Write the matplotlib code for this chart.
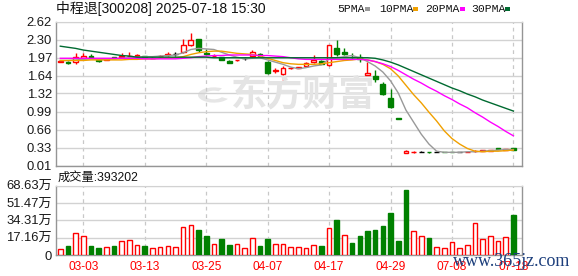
import matplotlib
matplotlib.use('Agg')
import matplotlib.pyplot as plt
from matplotlib.patches import Rectangle, Wedge
import numpy as np

# ---------------- data ----------------
title = "中程退[300208] 2025-07-18 15:30"
date_labels = ["03-03", "03-13", "03-25", "04-07", "04-17", "04-29", "07-08", "07-18"]
date_idx = [3, 11, 19, 27, 35, 43, 51, 59]

opens = [1.90, 1.90, 1.89, 1.96, 2.01, 1.93, 1.93, 1.98, 1.98, 2.00,
         2.01, 2.00, 1.97, 2.00, 2.02, 2.04, 2.07, 2.21, 2.31, 2.06,
         2.00, 1.99, 1.91, 1.92, 1.96, 2.01, 2.04, 1.89, 1.73, 1.67,
         1.78, 1.79, 1.82, 1.89, 1.91, 1.83, 2.14, 2.08, 1.99, 1.98,
         1.65, 1.64, 1.50, 1.23, 0.87, 0.24, 0.25, 0.26, 0.26, 0.25,
         0.26, 0.26, 0.25, 0.25, 0.27, 0.28, 0.28, 0.32, 0.30, 0.32]
highs = [1.92, 1.91, 2.06, 2.06, 2.04, 1.94, 1.95, 1.99, 2.06, 2.08,
         2.04, 2.01, 1.98, 2.02, 2.08, 2.08, 2.31, 2.42, 2.31, 2.12,
         2.04, 1.99, 1.92, 1.93, 1.98, 2.11, 2.05, 1.91, 1.78, 1.82,
         1.80, 1.81, 1.89, 2.02, 1.92, 2.21, 2.29, 2.14, 2.05, 2.04,
         1.90, 1.75, 1.52, 1.40, 0.87, 0.30, 0.28, 0.27, 0.26, 0.26,
         0.26, 0.26, 0.26, 0.26, 0.30, 0.29, 0.30, 0.32, 0.31, 0.32]
lows = [1.89, 1.86, 1.86, 1.93, 1.97, 1.90, 1.92, 1.96, 1.97, 1.99,
        2.00, 1.98, 1.96, 1.99, 2.01, 2.01, 2.05, 2.18, 2.08, 2.02,
        1.99, 1.92, 1.87, 1.91, 1.93, 1.96, 2.01, 1.68, 1.70, 1.53,
        1.76, 1.78, 1.81, 1.88, 1.85, 1.82, 2.01, 2.02, 1.97, 1.90,
        1.65, 1.53, 1.30, 1.05, 0.86, 0.24, 0.24, 0.25, 0.24, 0.25,
        0.25, 0.25, 0.25, 0.25, 0.26, 0.28, 0.28, 0.31, 0.30, 0.29]
closes = [1.91, 1.87, 1.99, 2.01, 1.97, 1.91, 1.95, 1.97, 2.01, 2.01,
          2.02, 1.99, 1.97, 2.01, 2.03, 2.04, 2.20, 2.30, 2.11, 2.03,
          2.01, 1.92, 1.88, 1.93, 1.96, 2.08, 2.01, 1.70, 1.75, 1.78,
          1.79, 1.80, 1.87, 1.93, 1.86, 2.21, 2.03, 2.03, 1.98, 1.95,
          1.69, 1.58, 1.31, 1.08, 0.86, 0.27, 0.26, 0.26, 0.25, 0.25,
          0.25, 0.25, 0.25, 0.26, 0.28, 0.29, 0.29, 0.31, 0.31, 0.29]

ma5 = [1.92, 1.92, 1.93, 1.94, 1.95, 1.94, 1.94, 1.95, 1.96, 1.97,
       1.98, 1.99, 1.99, 2.00, 2.01, 2.02, 2.06, 2.12, 2.14, 2.13,
       2.12, 2.07, 2.02, 1.98, 1.95, 1.96, 1.97, 1.93, 1.89, 1.85,
       1.80, 1.77, 1.79, 1.82, 1.84, 1.95, 1.97, 1.99, 2.01, 1.97,
       1.90, 1.82, 1.71, 1.55, 1.33, 1.02, 0.80, 0.58, 0.40, 0.27,
       0.25, 0.25, 0.25, 0.26, 0.26, 0.27, 0.28, 0.29, 0.30, 0.30]
ma10 = [1.92, 1.92, 1.92, 1.92, 1.93, 1.93, 1.93, 1.93, 1.93, 1.94,
        1.94, 1.95, 1.95, 1.96, 1.96, 1.97, 1.99, 2.03, 2.06, 2.08,
        2.09, 2.09, 2.07, 2.05, 2.04, 2.03, 2.00, 1.96, 1.92, 1.88,
        1.86, 1.85, 1.85, 1.85, 1.86, 1.88, 1.90, 1.92, 1.93, 1.95,
        1.93, 1.90, 1.85, 1.77, 1.64, 1.47, 1.30, 1.15, 0.98, 0.82,
        0.64, 0.50, 0.40, 0.32, 0.27, 0.26, 0.27, 0.27, 0.28, 0.29]
ma20 = [1.96, 1.96, 1.96, 1.96, 1.96, 1.96, 1.96, 1.96, 1.96, 1.96,
        1.96, 1.95, 1.95, 1.95, 1.95, 1.95, 1.96, 1.97, 1.99, 2.00,
        2.01, 2.01, 2.02, 2.02, 2.02, 2.02, 2.01, 2.01, 2.00, 1.99,
        1.97, 1.95, 1.94, 1.94, 1.94, 1.94, 1.94, 1.94, 1.94, 1.94,
        1.93, 1.90, 1.86, 1.81, 1.74, 1.66, 1.58, 1.51, 1.43, 1.36,
        1.28, 1.21, 1.13, 1.06, 0.97, 0.89, 0.80, 0.72, 0.63, 0.55]
ma30 = [2.18, 2.16, 2.14, 2.11, 2.09, 2.07, 2.05, 2.03, 2.01, 2.00,
        1.98, 1.98, 1.98, 1.98, 1.98, 1.98, 1.98, 1.98, 1.98, 1.98,
        1.97, 1.97, 1.97, 1.97, 1.97, 1.97, 1.97, 1.97, 1.97, 1.97,
        1.97, 1.97, 1.97, 1.97, 1.97, 1.97, 1.97, 1.97, 1.97, 1.97,
        1.97, 1.96, 1.93, 1.89, 1.84, 1.78, 1.72, 1.66, 1.60, 1.54,
        1.48, 1.42, 1.37, 1.31, 1.26, 1.20, 1.15, 1.10, 1.05, 1.00]

# volume in 万 shares, and whether bar is drawn as "up" (red)
volume = [6.0, 9.0, 21.7, 18.7, 9.0, 7.0, 7.7, 9.0, 14.0, 15.0,
          9.7, 9.0, 7.0, 7.7, 8.7, 7.7, 27.7, 29.7, 25.0, 19.0,
          11.0, 16.0, 10.0, 11.0, 6.7, 16.7, 9.0, 16.0, 11.0, 11.0,
          8.0, 7.7, 7.0, 9.7, 9.0, 26.7, 35.0, 19.7, 12.0, 19.0,
          24.0, 25.0, 29.0, 42.0, 14.0, 64.0, 23.7, 18.7, 17.0, 7.7,
          6.7, 12.7, 6.7, 9.7, 31.7, 15.7, 18.7, 14.0, 17.7, 39.3]
vol_up = [1, 0, 1, 1, 0, 0, 1, 0, 1, 1,
          1, 0, 1, 1, 1, 1, 1, 1, 0, 0,
          1, 0, 0, 1, 1, 1, 0, 0, 1, 1,
          1, 1, 1, 1, 0, 1, 0, 1, 0, 0,
          0, 0, 0, 0, 0, 0, 1, 1, 0, 1,
          1, 1, 1, 1, 1, 1, 1, 1, 1, 0]

price_ticks = [2.62, 2.30, 1.97, 1.64, 1.32, 0.99, 0.66, 0.33, 0.01]
vol_ticks = [0, 17.16, 34.31, 51.47, 68.63]
vol_tick_labels = ["0", "17.16万", "34.31万", "51.47万", "68.63万"]
last_volume_text = "成交量:393202"
legend_names = ["5PMA", "10PMA", "20PMA", "30PMA"]

# ---------------- style ----------------
RED = '#ff0000'
GREEN = '#008000'
MA_COLORS = ['#999999', '#f0a000', '#ff00ff', '#006a30']
GRID = '#d2d2d2'
SPINE = '#959595'
FONT = ['Liberation Sans', 'Noto Sans CJK SC', 'DejaVu Sans']
plt.rcParams['font.family'] = FONT

W, H = 578, 276
fig = plt.figure(figsize=(W / 100, H / 100), dpi=100)


def fx(x):
    return x / W


def fy(y):
    return 1 - y / H


L, R = 56, 522
axp = fig.add_axes([fx(L), fy(165.5), (R - L) / W, (165.5 - 22) / H])
axv = fig.add_axes([fx(L), fy(255), (R - L) / W, (255 - 185.7) / H])

n = len(closes)
x = np.arange(n)
xlim = (-0.56, 60.12)

# watermark (logo swirl + text)
fig.add_artist(Wedge((fx(214), fy(95)), 16 / W, 60, 330, width=7 / W,
                     transform=fig.transFigure, facecolor='#e6e6e6',
                     edgecolor='none', zorder=0))
fig.text(fx(303), fy(95), "东方财富", color='#e4e4e4', fontsize=26,
         fontweight='bold', family=['Noto Sans CJK SC'], ha='center',
         va='center', zorder=0)

for ax in (axp, axv):
    ax.set_xlim(*xlim)
    ax.set_facecolor('none')
    for xi in date_idx:
        ax.axvline(xi, color='#c8c8c8', lw=0.9, ls=(0, (3, 3)), zorder=0)
    for s in ('left', 'right', 'bottom'):
        ax.spines[s].set_color(SPINE)
        ax.spines[s].set_linewidth(1.0)
    ax.spines['top'].set_color(GRID)
    ax.tick_params(axis='both', length=0, pad=3, labelsize=9.4,
                   labelcolor='#1a1a1a')

# ---- price panel ----
axp.set_ylim(0.01, 2.62)
axp.set_yticks(price_ticks)
axp.set_yticklabels([f"{t:.2f}" for t in price_ticks])
axp.set_xticks([])
for t in price_ticks:
    axp.axhline(t, color=GRID, lw=1.0, zorder=0)

bw = 0.62
for i in range(n):
    o, h, l, c = opens[i], highs[i], lows[i], closes[i]
    if c > o:
        col = RED
    elif c < o:
        col = GREEN
    else:
        col = '#000000'
    axp.vlines(i, l, h, color=col, lw=1.0, zorder=2)
    if c == o:
        axp.hlines(c, i - bw / 2, i + bw / 2, color=col, lw=1.0, zorder=3)
    else:
        bot = min(o, c)
        ht = abs(c - o)
        face = 'white' if c > o else GREEN
        axp.add_patch(Rectangle((i - bw / 2, bot), bw, ht, facecolor=face,
                                edgecolor=col, lw=1.0, zorder=3))

for ma, colr in zip([ma5, ma10, ma20, ma30], MA_COLORS):
    axp.plot(x, ma, color=colr, lw=1.0, zorder=4)

# ---- volume panel ----
axv.set_ylim(0, 68.63)
axv.set_yticks(vol_ticks)
axv.set_yticklabels(vol_tick_labels)
for t in vol_ticks[1:]:
    axv.axhline(t, color=GRID, lw=1.0, zorder=0)
vb = 0.6
for i in range(n):
    if vol_up[i]:
        axv.add_patch(Rectangle((i - vb / 2, 0), vb, volume[i],
                                facecolor='white', edgecolor=RED, lw=1.0, zorder=3))
    else:
        axv.add_patch(Rectangle((i - vb / 2, 0), vb, volume[i],
                                facecolor=GREEN, edgecolor=GREEN, lw=1.0, zorder=3))
axv.set_xticks(date_idx)
axv.set_xticklabels(date_labels, color=RED, fontsize=8.6)
axv.tick_params(axis='x', pad=4)

# ---- texts ----
fig.text(fx(56), fy(9), title, fontsize=10, ha='left', va='center',
         color='#111111')
fig.text(fx(58), fy(177.5), last_volume_text, fontsize=8.8, ha='left',
         va='center', color='#111111')

legend_x = [337, 379, 425, 471]
for name, lx in zip(legend_names, legend_x):
    fig.text(fx(lx), fy(9), name, fontsize=8.2, family=['Liberation Mono'],
             ha='left', va='center', color='#111111')
sq_x = [365, 413, 460, 505]
for sx, colr in zip(sq_x, MA_COLORS):
    fig.add_artist(Rectangle((fx(sx), fy(10.5)), 5 / W, 3 / H,
                             transform=fig.transFigure, facecolor=colr,
                             edgecolor='none'))

fig.text(fx(512), fy(261), "www.365jz.com", fontsize=13, family=['Liberation Serif'],
         color='#1d3f7c', ha='center', va='center', zorder=10)

fig.savefig('out.png', dpi=100)
